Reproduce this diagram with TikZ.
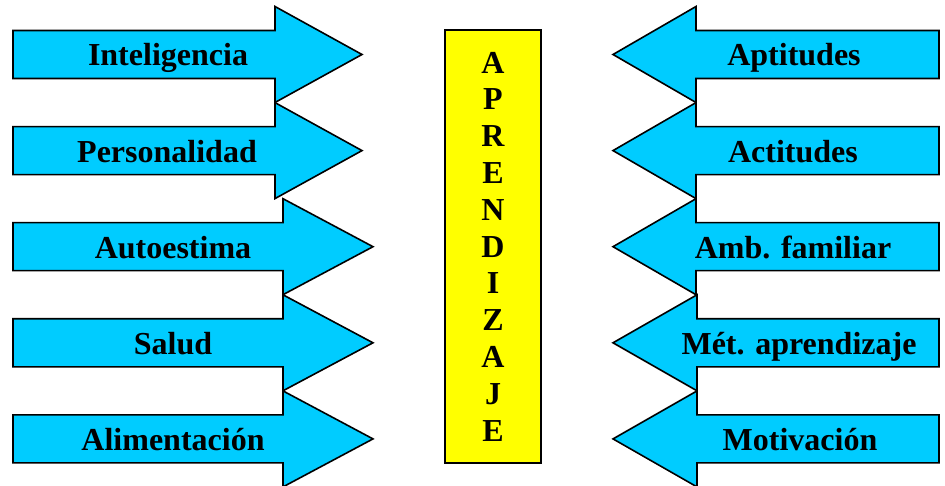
\documentclass[tikz,border=0pt]{standalone}
\usepackage{xcolor}
\usepackage{fontspec}
\setmainfont{Liberation Serif}
\usepackage{tikz}

\definecolor{celeste}{HTML}{00CCFF}
\definecolor{amarillo}{HTML}{FFFF00}

\tikzset{
  flecha/.style={draw=black, fill=celeste, line width=1.6pt, line join=miter},
  rotulo/.style={inner sep=0pt, font=\bfseries\fontsize{32}{36.8}\selectfont, text height=25pt, text depth=2pt},
  caja/.style={draw=black, fill=amarillo, line width=1.6pt, inner sep=0pt, align=center,
    minimum width=96pt, minimum height=433pt, font=\bfseries\fontsize{32}{36.8}\selectfont}
}

\begin{document}
\begin{tikzpicture}[x=1pt, y=-1pt]
	\useasboundingbox (0,0) rectangle (945,486);
	% flechas de la izquierda
	\draw [flecha] (13,30.5) -- (275,30.5) -- (275,6.5) -- (362,54.5) -- (275,102.5) -- (275,78.5) -- (13,78.5) -- cycle;
	\draw [flecha] (13,126.6) -- (275,126.6) -- (275,102.6) -- (362,150.6) -- (275,198.6) -- (275,174.6) -- (13,174.6) -- cycle;
	\draw [flecha] (13,222.7) -- (283,222.7) -- (283,198.7) -- (373,246.7) -- (283,294.7) -- (283,270.7) -- (13,270.7) -- cycle;
	\draw [flecha] (13,318.8) -- (283,318.8) -- (283,294.8) -- (373,342.8) -- (283,390.8) -- (283,366.8) -- (13,366.8) -- cycle;
	\draw [flecha] (13,414.9) -- (283,414.9) -- (283,390.9) -- (373,438.9) -- (283,486.9) -- (283,462.9) -- (13,462.9) -- cycle;
	\node [rotulo] (intel) at (168,54.5) {Inteligencia};
	\node [rotulo] (perso) at (167,150.6) {Personalidad};
	\node [rotulo] (autoe) at (173,246.7) {Autoestima};
	\node [rotulo] (salud) at (173,342.8) {Salud};
	\node [rotulo] (alime) at (173,438.9) {Alimentación};
	% flechas de la derecha
	\draw [flecha] (939,30.5) -- (696,30.5) -- (696,6.5) -- (613,54.5) -- (696,102.5) -- (696,78.5) -- (939,78.5) -- cycle;
	\draw [flecha] (939,126.6) -- (696,126.6) -- (696,102.6) -- (613,150.6) -- (696,198.6) -- (696,174.6) -- (939,174.6) -- cycle;
	\draw [flecha] (939,222.7) -- (696,222.7) -- (696,198.7) -- (613,246.7) -- (696,294.7) -- (696,270.7) -- (939,270.7) -- cycle;
	\draw [flecha] (939,318.8) -- (697,318.8) -- (697,294.8) -- (613,342.8) -- (697,390.8) -- (697,366.8) -- (939,366.8) -- cycle;
	\draw [flecha] (939,414.9) -- (697,414.9) -- (697,390.9) -- (613,438.9) -- (697,486.9) -- (697,462.9) -- (939,462.9) -- cycle;
	\node [rotulo] (aptit) at (794,54.5) {Aptitudes};
	\node [rotulo] (actit) at (793,150.6) {Actitudes};
	\node [rotulo] (ambfa) at (793,246.7) {Amb. familiar};
	\node [rotulo] (metap) at (799,342.8) {Mét. aprendizaje};
	\node [rotulo] (motiv) at (800,438.9) {Motivación};
	% caja central
	\node [caja] (apren) at (493,246.5) {A\\P\\R\\E\\N\\D\\I\\Z\\A\\J\\E};
\end{tikzpicture}
\end{document}
